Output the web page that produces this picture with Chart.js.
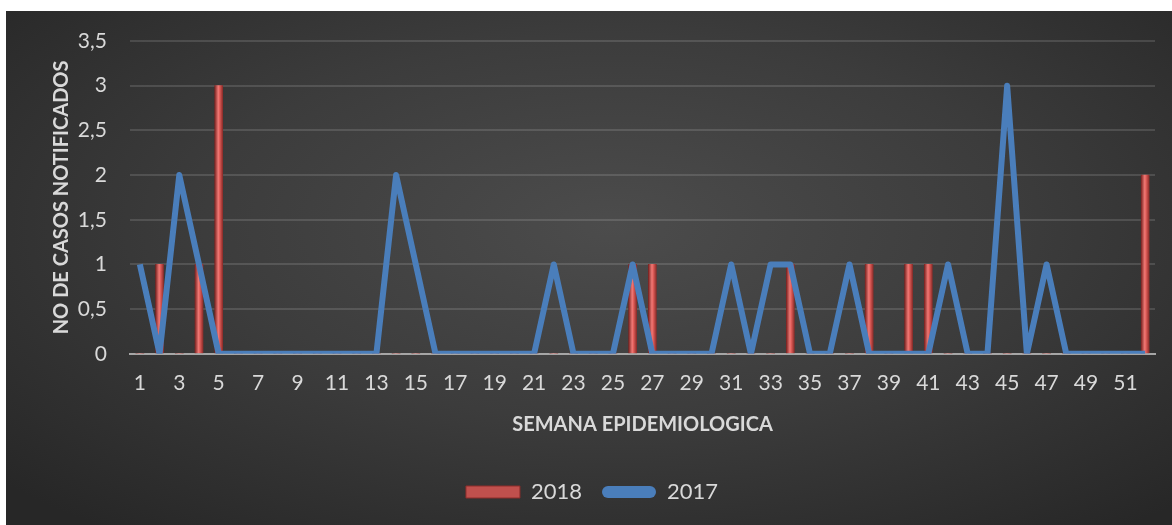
<!DOCTYPE html>
<html lang="es">
<head>
<meta charset="UTF-8">
<title>Casos notificados por semana epidemiologica</title>
<script src="https://cdn.jsdelivr.net/npm/chart.js"></script>
<style>
  html, body { margin: 0; padding: 0; background: #fff; }
  #panel {
    position: absolute;
    left: 6px; top: 11px;
    width: 1166px; height: 514px;
    background: radial-gradient(ellipse 70% 75% at 52% 42%, #4c4c4c 0%, #3c3c3c 50%, #272727 100%);
  }
</style>
</head>
<body>
<div id="panel"><canvas id="grafico"></canvas></div>
<script>
  // semanas 1..52
  const semanas = [];
  for (let i = 1; i <= 52; i++) semanas.push(String(i));

  const casos2018 = [0,1,0,1,3,0,0,0,0,0, 0,0,0,0,0,0,0,0,0,0, 0,0,0,0,0,1,1,0,0,0, 0,0,0,1,0,0,0,1,0,1, 1,0,0,0,0,0,0,0,0,0, 0,2];
  const casos2017 = [1,0,2,1,0,0,0,0,0,0, 0,0,0,2,1,0,0,0,0,0, 0,1,0,0,0,1,0,0,0,0, 1,0,1,1,0,0,1,0,0,0, 0,1,0,0,3,0,1,0,0,0, 0,0];

  const cinza = '#d9d9d9';
  const fonte = 'Lato, "Open Sans", sans-serif';

  function barraGradiente(ctx) {
    const chart = ctx.chart;
    const x = chart.scales && chart.scales.x;
    if (!chart.chartArea || !x) return '#c0504d';
    const cx = x.getPixelForValue(ctx.dataIndex);
    const g = chart.ctx.createLinearGradient(cx - 4, 0, cx + 4, 0);
    g.addColorStop(0, '#7d2422');
    g.addColorStop(0.45, '#f07a76');
    g.addColorStop(0.6, '#e35f5b');
    g.addColorStop(1, '#8e2d2a');
    return g;
  }

  new Chart(document.getElementById('grafico'), {
    data: {
      labels: semanas,
      datasets: [
        {
          type: 'line',
          label: '2017',
          data: casos2017,
          borderColor: '#4a7ebb',
          backgroundColor: '#4a7ebb',
          borderWidth: 6,
          tension: 0,
          pointRadius: 0,
          borderJoinStyle: 'round',
          order: 0
        },
        {
          type: 'bar',
          label: '2018',
          data: casos2018,
          backgroundColor: barraGradiente,
          barThickness: 8,
          order: 1
        }
      ]
    },
    options: {
      responsive: true,
      maintainAspectRatio: false,
      animation: false,
      layout: { padding: { top: 11, right: 17, left: 23, bottom: 12 } },
      scales: {
        x: {
          grid: { display: false, drawTicks: false },
          border: { display: true, color: '#a6a6a6', width: 2 },
          ticks: {
            color: cinza,
            font: { family: fonte, size: 21 },
            autoSkip: false,
            maxRotation: 0,
            padding: 17,
            callback: function (v, i) { return i % 2 === 0 ? this.getLabelForValue(v) : ''; }
          },
          title: {
            display: true,
            text: 'SEMANA EPIDEMIOLOGICA',
            color: cinza,
            font: { family: fonte, size: 20, weight: 'bold' },
            padding: { top: 0, bottom: 24 }
          }
        },
        y: {
          min: 0,
          max: 3.5,
          afterFit: s => { s.width = 101; s.paddingTop = 30; },
          ticks: {
            stepSize: 0.5,
            color: cinza,
            font: { family: fonte, size: 21 },
            padding: 23,
            callback: v => String(v).replace('.', ',')
          },
          grid: { color: 'rgba(255,255,255,0.13)', lineWidth: 2, drawTicks: false },
          border: { display: false },
          title: {
            display: true,
            text: 'NO DE CASOS NOTIFICADOS',
            color: cinza,
            font: { family: fonte, size: 20, weight: 'bold' },
            padding: { top: 21, bottom: 0 }
          }
        }
      },
      plugins: {
        legend: {
          position: 'bottom',
          reverse: true,
          labels: {
            color: cinza,
            font: { family: fonte, size: 22 },
            boxWidth: 54,
            boxHeight: 12,
            padding: 20,
            generateLabels: function (chart) {
              const itens = Chart.defaults.plugins.legend.labels.generateLabels(chart);
              itens.forEach(it => {
                if (it.text === '2018') {
                  it.fillStyle = '#c0504d';
                  it.strokeStyle = '#8e2d2a';
                  it.lineWidth = 1;
                } else {
                  it.fillStyle = '#4a7ebb';
                  it.strokeStyle = '#4a7ebb';
                  it.lineWidth = 0;
                  it.borderRadius = 6;
                }
              });
              return itens;
            },
            useBorderRadius: true
          }
        },
        tooltip: { enabled: false }
      }
    }
  });
</script>
</body>
</html>
